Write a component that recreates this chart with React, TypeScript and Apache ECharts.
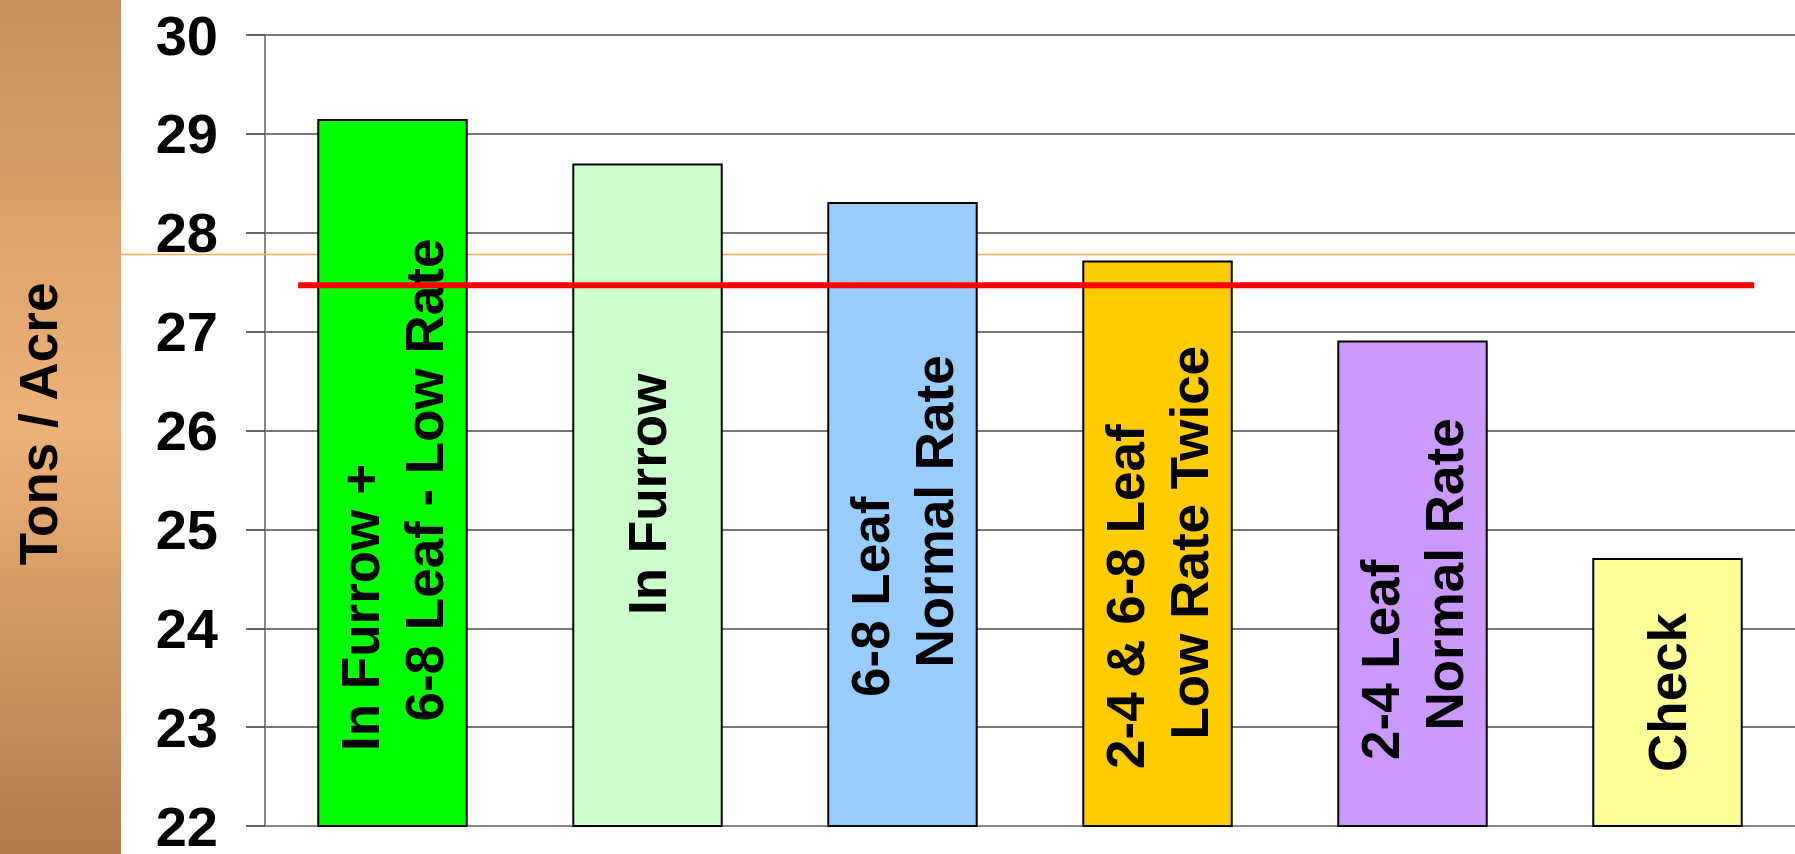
import React, { useEffect, useRef } from 'react';
import * as echarts from 'echarts';

// ---- data ----
const categories: string[] = [
  'In Furrow +\n6-8 Leaf - Low Rate',
  'In Furrow',
  '6-8 Leaf\nNormal Rate',
  '2-4 & 6-8 Leaf\nLow Rate Twice',
  '2-4 Leaf\nNormal Rate',
  'Check',
];
const tonsPerAcre: number[] = [29.15, 28.7, 28.31, 27.72, 26.91, 24.71];
const barColors: string[] = ['#00ff00', '#ccffcc', '#99ccff', '#ffcc00', '#cc99ff', '#ffff99'];
const yMin = 22;
const yMax = 30;
const yStep = 1;
const yAxisTitle = 'Tons / Acre';
const referenceValue = 27.47;
const referenceSpan: number[] = [0.13, 5.84]; // in category units along the x axis

// ---- styles ----
const FONT = '"Liberation Sans", Arial, Helvetica, sans-serif';
const labelLift = [76, 212, 130, 58, 67, 55];
const indent = '\u00a0\u00a0';

export default function App() {
  const ref = useRef<HTMLDivElement>(null);

  useEffect(() => {
    if (!ref.current) return;
    const chart = echarts.init(ref.current, undefined, { renderer: 'svg' });

    const barData = tonsPerAcre.map((v, i) => ({
      value: v,
      itemStyle: { color: barColors[i], borderColor: '#000', borderWidth: 2 },
      label: {
        show: true,
        position: 'insideBottom',
        distance: labelLift[i],
        rotate: 90,
        align: 'left',
        verticalAlign: 'middle',
        fontSize: 53,
        fontWeight: 'bold',
        fontFamily: FONT,
        color: '#000',
        lineHeight: 64,
        formatter: () =>
          categories[i]
            .split('\n')
            .map((line, k) => (k === 0 ? line : indent + line))
            .join('\n'),
      },
    }));

    chart.setOption({
      animation: false,
      backgroundColor: '#ffffff',
      grid: { left: 265, right: 0, top: 35, bottom: 24, containLabel: false },
      graphic: [
        {
          type: 'rect',
          left: 0,
          top: 0,
          z: -10,
          shape: { x: 0, y: 0, width: 121, height: 854 },
          style: {
            fill: new echarts.graphic.LinearGradient(0, 0, 0, 1, [
              { offset: 0, color: '#c8915c' },
              { offset: 0.5, color: '#edb277' },
              { offset: 1, color: '#b07a4a' },
            ]),
          },
        },
        {
          type: 'line',
          z: 1,
          shape: { x1: 121, y1: 254.5, x2: 1795, y2: 254.5 },
          style: { stroke: '#f0aa5a', lineWidth: 1.5 },
        },
        {
          type: 'text',
          x: 38,
          y: 424,
          rotation: Math.PI / 2,
          z: 10,
          style: {
            text: yAxisTitle,
            fontSize: 53,
            fontWeight: 'bold',
            fontFamily: FONT,
            fill: '#000',
            align: 'center',
            verticalAlign: 'middle',
          },
        },
      ],
      xAxis: [
        {
          type: 'category',
          data: categories,
          boundaryGap: true,
          axisLabel: { show: false },
          axisTick: { show: false },
          axisLine: { show: true, lineStyle: { color: '#888', width: 2 } },
          splitLine: { show: false },
        },
        {
          type: 'value',
          min: 0,
          max: categories.length,
          show: false,
        },
      ],
      yAxis: {
        type: 'value',
        min: yMin,
        max: yMax,
        interval: yStep,
        axisLine: { show: true, lineStyle: { color: '#888', width: 2 } },
        axisTick: { show: true, length: 19, lineStyle: { color: '#333', width: 1.5 } },
        axisLabel: {
          fontSize: 56,
          fontWeight: 'bold',
          fontFamily: FONT,
          color: '#000',
          margin: 47,
        },
        splitLine: { show: true, lineStyle: { color: '#4a4a4a', width: 1.5 } },
      },
      series: [
        {
          type: 'bar',
          xAxisIndex: 0,
          barWidth: '59%',
          data: barData,
          z: 2,
        },
        {
          type: 'line',
          xAxisIndex: 1,
          symbol: 'none',
          z: 5,
          lineStyle: { color: '#ff0000', width: 6 },
          data: [
            [referenceSpan[0], referenceValue],
            [referenceSpan[1], referenceValue],
          ],
        },
      ],
    });

    return () => chart.dispose();
  }, []);

  return (
    <div
      ref={ref}
      style={{ position: 'absolute', left: 0, top: 0, width: 1795, height: 854 }}
    />
  );
}
